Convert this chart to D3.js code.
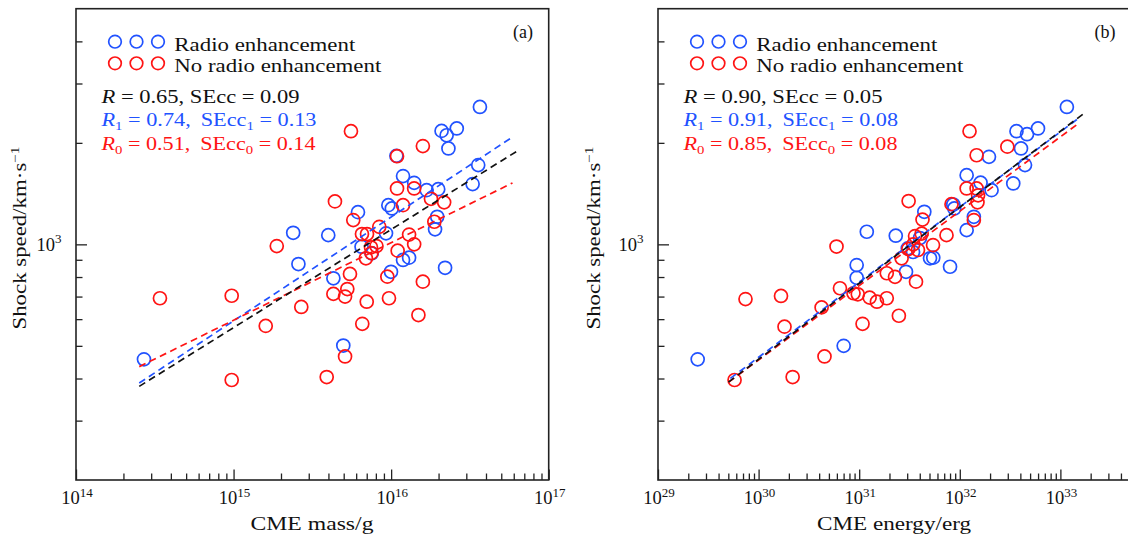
<!DOCTYPE html>
<html>
<head>
<meta charset="utf-8">
<script src="https://cdn.jsdelivr.net/npm/d3@7"></script>
<style>
  body { margin: 0; background: #fff; }
  svg { display: block; }
  text { font-family: "Liberation Serif", "DejaVu Serif", serif; fill: #111; }
</style>
</head>
<body>
<svg id="chart" width="1128" height="535"></svg>
<script>
// ---- data: shock speed (km/s) against CME mass (g) and CME energy (erg) ----
const speedDomain = [200, 5000];
const massDomain = [1e14, 1e17];
const energyDomain = [1e29, 5e33];

const massTickExps = [14, 15, 16, 17];
const energyTickExps = [29, 30, 31, 32, 33];
const speedTickExps = [3];

// events with a radio enhancement, panel (a)
const massRadio = [3.66e16, 2.09e16, 2.61e16, 2.25e16, 2.31e16, 1.08e16, 3.57e16, 1.19e16, 1.40e16, 1.99e16,
  1.68e16, 3.29e16, 9.6e15, 1.01e16, 6.16e15, 1.96e16, 1.90e16, 9.28e15, 3.99e15, 2.39e15,
  6.49e15, 7.53e15, 1.19e16, 1.30e16, 9.98e15, 2.20e16, 2.58e15, 4.30e15, 4.97e15, 2.70e14];
const speedRadioA = [2556, 2170, 2207, 2107, 1925, 1830, 1718, 1594, 1522, 1458,
  1448, 1509, 1307, 1278, 1246, 1207, 1108, 1078, 1065, 1082,
  984, 940, 899, 913, 829, 852, 874, 793, 501, 456];

// events without a radio enhancement, panel (a)
const massQuiet = [5.56e15, 1.59e16, 1.09e16, 1.09e16, 1.40e16, 1.79e16, 2.17e16, 1.19e16, 4.40e15, 5.75e15,
  8.41e15, 1.88e16, 1.30e16, 1.40e16, 6.53e15, 7.03e15, 1.88e15, 3.41e14, 9.73e14, 9.73e14,
  1.60e15, 2.69e15, 3.90e15, 5.10e15, 4.30e15, 5.10e15, 5.27e15, 5.48e15, 6.56e15, 7.0e15,
  9.69e15, 9.46e15, 1.59e16, 1.49e16, 1.10e16, 6.92e15, 7.45e15, 8.07e15, 7.5e15];
const speedQuietA = [2166, 1956, 1826, 1465, 1465, 1365, 1332, 1307, 1341, 1180,
  1127, 1167, 1069, 1000, 1073, 1073, 988, 692, 704, 396,
  573, 652, 404, 465, 713, 700, 737, 817, 581, 676,
  692, 802, 775, 617, 958, 909, 980, 988, 942];

// events with a radio enhancement, panel (b)
const energyRadio = [1.16e33, 3.66e32, 4.66e32, 5.99e32, 4.06e32, 1.95e32, 4.45e32, 1.17e32, 1.61e32, 3.40e32,
  2.07e32, 8.61e31, 8.82e31, 4.44e31, 1.38e32, 1.17e32, 1.19e31, 2.31e31, 4.02e31, 3.04e31,
  3.43e31, 5.06e31, 5.45e31, 8.0e31, 9.44e30, 2.92e31, 9.44e30, 7.01e30, 2.48e29];
const speedRadioB = [2556, 2166, 2122, 2207, 1925, 1818, 1718, 1604, 1524, 1516,
  1448, 1313, 1278, 1249, 1207, 1102, 1090, 1061, 1044, 973,
  949, 909, 913, 858, 868, 829, 796, 500, 456];

// events without a radio enhancement, panel (b)
const energyQuiet = [1.25e32, 2.97e32, 1.47e32, 1.17e32, 1.47e32, 1.52e32, 1.50e32, 8.27e31, 3.10e31, 4.26e31,
  1.38e32, 7.38e31, 5.42e31, 4.18e31, 3.59e31, 5.95e30, 3.45e31, 3.08e31, 2.64e31, 3.84e31,
  1.88e31, 2.27e31, 3.67e31, 6.44e30, 8.78e30, 9.68e30, 1.27e31, 1.50e31, 1.88e31, 7.41e29,
  1.67e30, 1.81e30, 2.18e30, 5.77e29, 4.52e30, 4.23e30, 1.08e31, 2.48e31];
const speedQuietB = [2166, 1949, 1838, 1465, 1465, 1398, 1332, 1316, 1344, 1184,
  1180, 1065, 995, 1076, 1058, 985, 1000, 968, 909, 962,
  821, 801, 775, 741, 716, 711, 695, 676, 692, 688,
  703, 570, 404, 396, 465, 650, 581, 614];

// power-law fits log10(v) = intercept + slope*log10(x): all events, radio, no radio
const fitSlopesA = [0.291, 0.308, 0.230];
const fitInterceptsA = [-1.612, -1.847, -0.675];
const fitStartA = [2.52e14, 2.52e14, 2.52e14];
const fitEndA = [6.37e16, 5.89e16, 5.89e16];

const fitSlopesB = [0.2255, 0.2229, 0.2206];
const fitInterceptsB = [-4.106, -4.022, -3.961];
const fitStartB = [5.02e29, 5.24e29, 5.02e29];
const fitEndB = [1.77e33, 1.46e33, 1.46e33];

// correlation coefficients and their standard errors
const corrA = ["0.65", "0.74", "0.51"];
const secA = ["0.09", "0.13", "0.14"];
const corrB = ["0.90", "0.91", "0.85"];
const secB = ["0.05", "0.08", "0.08"];

const legendLabels = ["Radio enhancement", "No radio enhancement"];

// ---- drawing ----
const BLUE = "#2152ff", RED = "#ff1414", BLACK = "#111";
const svg = d3.select("#chart");

function logTicks(domain) {
  const out = [];
  const lo = Math.floor(Math.log10(domain[0]) + 1e-9), hi = Math.ceil(Math.log10(domain[1]) - 1e-9);
  for (let e = lo; e <= hi; e++) {
    for (let k = 1; k < 10; k++) {
      const v = k * Math.pow(10, e);
      if (v >= domain[0] * 0.999 && v <= domain[1] * 1.001) out.push({ v, major: k === 1 });
    }
  }
  return out;
}

function powerLabel(g, x, y, exp, anchor) {
  const t = g.append("text").attr("x", x).attr("y", y)
    .attr("text-anchor", anchor).attr("font-size", 18.5);
  t.append("tspan").text("10");
  t.append("tspan").attr("dy", -7.5).attr("font-size", 13).text(exp);
  return t;
}

function panel(cfg) {
  const g = svg.append("g");
  const x = d3.scaleLog().domain(cfg.xDomain).range([cfg.left, cfg.left + 472.7]);
  const y = d3.scaleLog().domain(speedDomain).range([480, 8.7]);
  const left = cfg.left;

  // ticks (inward)
  const xt = logTicks(cfg.xDomain);
  const yt = logTicks(speedDomain).filter(d => d.v > speedDomain[0] * 1.001 && d.v < speedDomain[1] * 0.999);
  const axMinorX = d3.axisBottom(x).tickValues(xt.filter(d => !d.major).map(d => d.v)).tickSize(-6.5).tickFormat("");
  const axMajorX = d3.axisBottom(x).tickValues(xt.filter(d => d.major).map(d => d.v)).tickSize(-10.5).tickFormat("");
  const axMinorY = d3.axisLeft(y).tickValues(yt.filter(d => !d.major).map(d => d.v)).tickSize(-6.5).tickFormat("");
  const axMajorY = d3.axisLeft(y).tickValues(yt.filter(d => d.major).map(d => d.v)).tickSize(-11).tickFormat("");
  [[axMinorX, "x"], [axMajorX, "x"], [axMinorY, "y"], [axMajorY, "y"]].forEach(([ax, dir]) => {
    const a = g.append("g")
      .attr("transform", dir === "x" ? "translate(0,480)" : `translate(${left},0)`)
      .call(ax);
    a.select(".domain").remove();
    a.selectAll("line").attr("stroke", "#222").attr("stroke-width", 1.3);
  });

  // frame
  g.append("rect").attr("x", left).attr("y", 8.7).attr("width", 472.7).attr("height", 480 - 8.7)
    .attr("fill", "none").attr("stroke", "#222").attr("stroke-width", 1.6);

  // tick labels
  cfg.xExps.forEach(e => powerLabel(g, x(Math.pow(10, e)) + 1, 504, e, "middle"));
  speedTickExps.forEach(e => powerLabel(g, left - 14.5, y(Math.pow(10, e)) + 6.5, e, "end"));

  // axis titles
  g.append("text").attr("x", left + 236).attr("y", 530).attr("text-anchor", "middle")
    .attr("font-size", 18).attr("textLength", cfg.xTitleLen).attr("lengthAdjust", "spacingAndGlyphs")
    .text(cfg.xTitle);
  const yt1 = g.append("text").attr("transform", `translate(${cfg.yTitleX},238) rotate(-90)`)
    .attr("text-anchor", "middle").attr("font-size", 18)
    .attr("textLength", 183).attr("lengthAdjust", "spacingAndGlyphs");
  yt1.append("tspan").text("Shock speed/km\u00b7s");
  yt1.append("tspan").attr("dy", -7).attr("font-size", 12).text("\u22121");

  // points
  const pts = g.append("g").attr("fill", "none").attr("stroke-width", 1.7);
  pts.selectAll("circle.radio").data(cfg.xRadio.map((v, i) => [v, cfg.vRadio[i]])).join("circle")
    .attr("class", "radio").attr("cx", d => x(d[0])).attr("cy", d => y(d[1])).attr("r", 6.5).attr("stroke", BLUE);
  pts.selectAll("circle.quiet").data(cfg.xQuiet.map((v, i) => [v, cfg.vQuiet[i]])).join("circle")
    .attr("class", "quiet").attr("cx", d => x(d[0])).attr("cy", d => y(d[1])).attr("r", 6.5).attr("stroke", RED);

  // fit lines
  const colors = [BLACK, BLUE, RED];
  const line = d3.line().x(d => x(d[0])).y(d => y(d[1]));
  [1, 2, 0].forEach(i => {
    const f = xv => Math.pow(10, cfg.fitI[i] + cfg.fitS[i] * Math.log10(xv));
    const seg = [[cfg.fitStart[i], f(cfg.fitStart[i])], [cfg.fitEnd[i], f(cfg.fitEnd[i])]];
    g.append("path").attr("d", line(seg)).attr("fill", "none")
      .attr("stroke", colors[i]).attr("stroke-width", 1.7).attr("stroke-dasharray", "7,4.5");
  });

  // legend
  [BLUE, RED].forEach((c, row) => {
    [0, 1, 2].forEach(k => {
      g.append("circle").attr("cx", left + 39 + k * 21.5).attr("cy", 41.7 + row * 21.6)
        .attr("r", 6.3).attr("fill", "none").attr("stroke", c).attr("stroke-width", 1.7);
    });
    g.append("text").attr("x", left + 98.3).attr("y", 50.5 + row * 21.6).attr("font-size", 18)
      .attr("textLength", row === 0 ? 181 : 207).attr("lengthAdjust", "spacingAndGlyphs")
      .text(legendLabels[row]);
  });

  // correlation statistics
  const subs = ["", "1", "0"];
  const widths = cfg.statLens;
  [BLACK, BLUE, RED].forEach((c, i) => {
    const t = g.append("text").attr("x", left + 25.5).attr("y", 102.7 + i * 23.7)
      .attr("font-size", 18).style("fill", c)
      .attr("textLength", widths[i]).attr("lengthAdjust", "spacingAndGlyphs");
    t.append("tspan").attr("font-style", "italic").text("R");
    if (subs[i]) {
      t.append("tspan").attr("dy", 4).attr("font-size", 12).text(subs[i]);
      t.append("tspan").attr("dy", -4).text(` = ${cfg.corr[i]}, \u2009SEcc`);
      t.append("tspan").attr("dy", 4).attr("font-size", 12).text(subs[i]);
      t.append("tspan").attr("dy", -4).text(` = ${cfg.sec[i]}`);
    } else {
      t.append("tspan").text(` = ${cfg.corr[i]}, SEcc = ${cfg.sec[i]}`);
    }
  });

  // panel tag
  g.append("text").attr("x", left + 447).attr("y", 37.5).attr("text-anchor", "middle")
    .attr("font-size", 18).text(cfg.tag);
}

panel({
  left: 76, xDomain: massDomain, xExps: massTickExps, xTitle: "CME mass/g", xTitleLen: 123, yTitleX: 25.5,
  xRadio: massRadio, vRadio: speedRadioA, xQuiet: massQuiet, vQuiet: speedQuietA,
  fitS: fitSlopesA, fitI: fitInterceptsA, fitStart: fitStartA, fitEnd: fitEndA,
  corr: corrA, sec: secA, statLens: [198, 215, 214], tag: "(a)"
});
panel({
  left: 658, xDomain: energyDomain, xExps: energyTickExps, xTitle: "CME energy/erg", xTitleLen: 154, yTitleX: 600,
  xRadio: energyRadio, vRadio: speedRadioB, xQuiet: energyQuiet, vQuiet: speedQuietB,
  fitS: fitSlopesB, fitI: fitInterceptsB, fitStart: fitStartB, fitEnd: fitEndB,
  corr: corrB, sec: secB, statLens: [199, 214.5, 214], tag: "(b)"
});
</script>
</body>
</html>
